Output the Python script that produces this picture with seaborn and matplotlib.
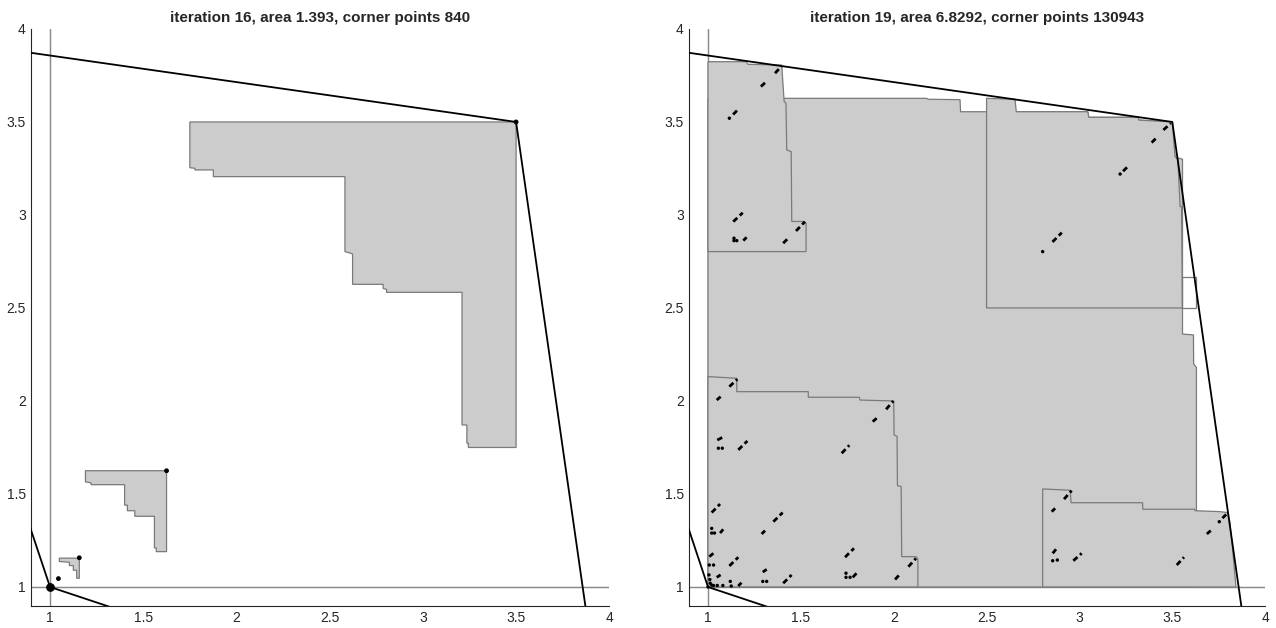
import numpy as np
import pandas as pd
import matplotlib
matplotlib.use("Agg")
import matplotlib.pyplot as plt
from matplotlib.patches import Polygon, Rectangle
import seaborn as sns

# ---- shared outline (hull) ----
hull_x = [0.0, 3.5, 4.0, 1.0, 0.0]
hull_y = [4.0, 3.5, 0.0, 1.0, 4.0]

# ---- left panel: iteration 16 ----
title_left = "iteration 16, area 1.393, corner points 840"
big_shape = [(1.75, 3.5), (3.5, 3.5), (3.5, 1.75), (3.244, 1.75), (3.244, 1.773),
             (3.236, 1.773), (3.236, 1.871), (3.21, 1.871), (3.21, 2.584), (2.805, 2.584),
             (2.805, 2.60), (2.787, 2.605), (2.787, 2.627), (2.623, 2.627), (2.623, 2.79),
             (2.61, 2.795), (2.582, 2.803), (2.582, 3.206), (1.876, 3.206), (1.876, 3.242),
             (1.777, 3.242), (1.777, 3.251), (1.75, 3.254)]
mid_shape = [(1.19, 1.625), (1.625, 1.625), (1.625, 1.19), (1.57, 1.19), (1.57, 1.21),
             (1.56, 1.21), (1.56, 1.38), (1.455, 1.38), (1.455, 1.41), (1.415, 1.41),
             (1.415, 1.44), (1.40, 1.44), (1.40, 1.55), (1.22, 1.55), (1.22, 1.56),
             (1.19, 1.565)]
small_shape = [(1.05, 1.155), (1.157, 1.155), (1.157, 1.047), (1.143, 1.047), (1.143, 1.09),
               (1.125, 1.09), (1.125, 1.115), (1.104, 1.115), (1.104, 1.133), (1.05, 1.137)]
left_dot_x = [3.5, 1.625, 1.157, 1.045]
left_dot_y = [3.5, 1.625, 1.157, 1.045]

# ---- right panel: iteration 19 ----
title_right = "iteration 19, area 6.8292, corner points 130943"
reg_b = [(1, 1), (3.63, 1), (3.63, 2.18), (3.615, 2.2), (3.614, 2.355), (3.555, 2.36),
         (3.555, 3.3), (3.515, 3.31), (3.5, 3.5), (3.32, 3.51), (3.316, 3.525), (3.05, 3.525),
         (3.045, 3.555), (2.36, 3.555), (2.357, 3.62), (2.185, 3.622), (2.178, 3.627), (1, 3.627)]
reg_c = [(2.5, 2.5), (3.554, 2.5), (3.553, 2.667), (3.55, 3.045), (3.542, 3.045),
         (3.53, 3.30), (3.515, 3.313), (3.5, 3.5), (3.32, 3.51), (3.316, 3.525), (3.05, 3.525),
         (3.045, 3.555), (2.66, 3.555), (2.653, 3.622), (2.5, 3.627)]
reg_a = [(1, 2.803), (1.528, 2.803), (1.528, 2.955), (1.513, 2.965), (1.451, 2.965),
         (1.448, 3.34), (1.424, 3.35), (1.42, 3.6), (1.41, 3.61), (1.397, 3.806),
         (1.215, 3.81), (1.205, 3.824), (1, 3.824)]
reg_d = [(1, 1), (2.13, 1), (2.13, 1.15), (2.12, 1.163), (2.043, 1.163), (2.04, 1.54),
         (2.02, 1.545), (2.018, 1.81), (2.002, 1.817), (2.0, 2.0), (1.818, 2.005),
         (1.815, 2.02), (1.54, 2.02), (1.54, 2.05), (1.155, 2.05), (1.155, 2.122), (1.0, 2.131)]
reg_e = [(2.802, 1), (3.843, 1), (3.825, 1.2), (3.81, 1.35), (3.797, 1.40), (3.757, 1.405),
         (3.623, 1.41), (3.62, 1.418), (3.341, 1.418), (3.34, 1.453), (2.955, 1.453),
         (2.95, 1.52), (2.802, 1.527)]
# thin outline-only box at the right of region C
box_x0, box_y0, box_x1, box_y1 = 3.554, 2.5, 3.626, 2.667

# short diagonal corner-point runs (start -> end)
dash_x0 = [1.361, 1.285, 1.135, 1.136, 1.190, 1.405, 1.474, 3.452, 3.389, 3.235, 2.855,
           1.115, 1.047, 1.959, 1.887, 1.050, 1.163, 1.720, 1.020, 1.065, 1.289, 1.352,
           1.007, 1.115, 1.738, 2.079, 1.295, 1.405, 1.779, 2.007, 1.047, 1.163, 2.917,
           2.851, 3.686, 3.770, 2.856, 2.967, 3.524]
dash_y0 = [3.762, 3.690, 3.540, 2.964, 2.862, 2.848, 2.914, 3.457, 3.389, 3.235, 2.855,
           2.077, 2.005, 1.955, 1.889, 1.790, 1.737, 1.719, 1.400, 1.290, 1.285, 1.351,
           1.163, 1.113, 1.160, 1.109, 1.080, 1.020, 1.052, 1.040, 1.052, 1.005, 1.472,
           1.405, 1.285, 1.370, 1.181, 1.141, 1.118]
dash_x1 = [1.397, 1.307, 1.163, 1.187, 1.208, 1.427, 1.522, 3.492, 3.412, 3.263, 2.905,
           1.158, 1.068, 1.998, 1.908, 1.079, 1.212, 1.761, 1.065, 1.082, 1.307, 1.402,
           1.029, 1.163, 1.786, 2.120, 1.316, 1.450, 1.800, 2.030, 1.068, 1.180, 2.958,
           2.869, 3.707, 3.790, 2.874, 3.012, 3.563]
dash_y1 = [3.801, 3.711, 3.568, 3.012, 2.880, 2.870, 2.964, 3.493, 3.412, 3.263, 2.905,
           2.117, 2.023, 2.000, 1.907, 1.805, 1.785, 1.762, 1.446, 1.310, 1.303, 1.400,
           1.181, 1.160, 1.208, 1.154, 1.095, 1.065, 1.074, 1.065, 1.065, 1.023, 1.518,
           1.423, 1.303, 1.390, 1.203, 1.181, 1.160]
# isolated corner points
pt_x = [1.115, 3.219, 2.802, 1.140, 1.140, 1.155, 1.056, 1.077, 1.020, 1.020, 1.035,
        1.007, 1.030, 1.295, 1.316, 1.743, 1.743, 1.765, 1.005, 1.010, 1.030, 1.050,
        1.080, 1.120, 1.125, 3.753, 2.856, 2.881, 1.0, 1.012, 1.02]
pt_y = [3.520, 3.220, 2.803, 2.875, 2.862, 2.862, 1.746, 1.746, 1.315, 1.290, 1.290,
        1.118, 1.118, 1.030, 1.030, 1.074, 1.052, 1.052, 1.065, 1.040, 1.008, 1.008,
        1.008, 1.030, 1.005, 1.351, 1.141, 1.145, 1.0, 1.02, 1.01]

FILL = "#cccccc"
EDGE = "#7a7a7a"


def setup_axes(ax, title):
    ax.set_xlim(0.9, 4)
    ax.set_ylim(0.9, 4)
    ax.set_xticks([1, 1.5, 2, 2.5, 3, 3.5, 4])
    ax.set_xticklabels(["1", "1.5", "2", "2.5", "3", "3.5", "4"])
    ax.set_yticks([1, 1.5, 2, 2.5, 3, 3.5, 4])
    ax.set_yticklabels(["1", "1.5", "2", "2.5", "3", "3.5", "4"])
    ax.tick_params(direction="in", length=4, width=0.8, labelsize=10,
                   colors="#262626", pad=4)
    for side in ["top", "right"]:
        ax.spines[side].set_visible(False)
    for side in ["left", "bottom"]:
        ax.spines[side].set_color("#262626")
        ax.spines[side].set_linewidth(0.8)
    ax.set_title(title, fontsize=11, fontweight="bold", pad=5)
    # reference lines x=1, y=1
    ax.axvline(1, color="#8a8a8a", lw=0.9, zorder=1)
    ax.axhline(1, color="#8a8a8a", lw=0.9, zorder=1)


def add_shape(ax, pts, z=2):
    ax.add_patch(Polygon(pts, closed=True, facecolor=FILL, edgecolor=EDGE,
                         lw=0.9, zorder=z))


def draw_hull(ax):
    hull = pd.DataFrame({"x": hull_x, "y": hull_y})
    sns.lineplot(data=hull, x="x", y="y", sort=False, estimator=None,
                 color="black", lw=1.3, ax=ax, zorder=5)
    ax.set_xlabel("")
    ax.set_ylabel("")


sns.set_theme(style="white")
plt.rcParams["font.family"] = ["Liberation Sans", "DejaVu Sans"]

fig = plt.figure(figsize=(12.76, 6.28), dpi=100)
ax1 = fig.add_axes([0.0246, 0.0357, 0.4529, 0.9182])
ax2 = fig.add_axes([0.5403, 0.0357, 0.4512, 0.9182])

# left panel
setup_axes(ax1, title_left)
for shp in [big_shape, mid_shape, small_shape]:
    add_shape(ax1, shp)
draw_hull(ax1)
sns.scatterplot(x=left_dot_x, y=left_dot_y, s=12, color="black", edgecolor="none",
                ax=ax1, zorder=6)
ax1.scatter([1.0], [1.0], s=28, color="black", zorder=6)
setup_axes(ax1, title_left)

# right panel
setup_axes(ax2, title_right)
for i, shp in enumerate([reg_b, reg_c, reg_d, reg_e, reg_a]):
    add_shape(ax2, shp, z=2 + i * 0.1)
ax2.add_patch(Rectangle((box_x0, box_y0), box_x1 - box_x0, box_y1 - box_y0,
                        facecolor="none", edgecolor=EDGE, lw=0.9, zorder=3))
for x0, y0, x1, y1 in zip(dash_x0, dash_y0, dash_x1, dash_y1):
    ax2.plot([x0, x1], [y0, y1], color="black", lw=2.0, ls=(0, (2.0, 1.2)),
             solid_capstyle="round", zorder=4)
sns.scatterplot(x=pt_x, y=pt_y, s=6, color="black", edgecolor="none", ax=ax2, zorder=4)
draw_hull(ax2)
setup_axes(ax2, title_right)

fig.savefig("out.png", dpi=100)
plt.close(fig)
